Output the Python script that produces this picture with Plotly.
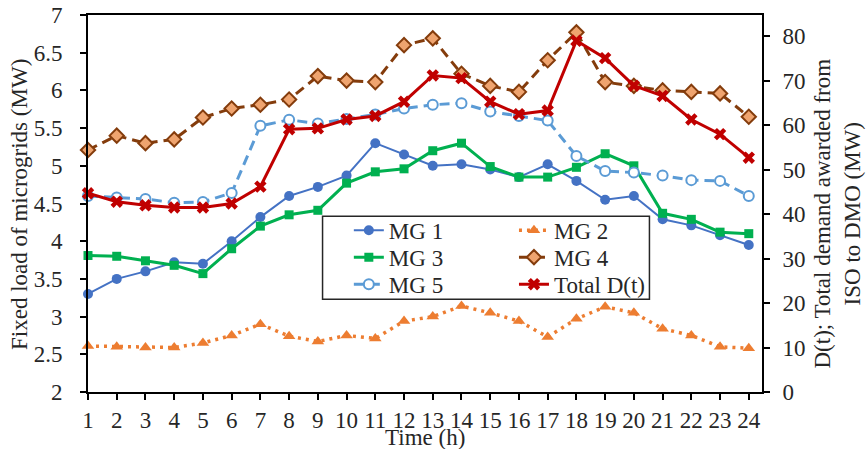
import plotly.graph_objects as go

hours = list(range(1, 25))
x_tick_labels = [str(h) for h in hours]
left_ticks = [2, 2.5, 3, 3.5, 4, 4.5, 5, 5.5, 6, 6.5, 7]
left_tick_labels = ["2", "2.5", "3", "3.5", "4", "4.5", "5", "5.5", "6", "6.5", "7"]
right_ticks = [0, 10, 20, 30, 40, 50, 60, 70, 80]
right_tick_labels = ["0", "10", "20", "30", "40", "50", "60", "70", "80"]

mg1 = [3.30, 3.50, 3.60, 3.72, 3.70, 4.00, 4.32, 4.60, 4.72, 4.87, 5.30, 5.15,
       5.00, 5.02, 4.95, 4.85, 5.02, 4.80, 4.55, 4.60, 4.29, 4.21, 4.08, 3.95]
mg2 = [2.61, 2.60, 2.59, 2.59, 2.65, 2.75, 2.90, 2.74, 2.67, 2.75, 2.71, 2.94,
       3.00, 3.14, 3.05, 2.94, 2.73, 2.97, 3.13, 3.05, 2.84, 2.75, 2.60, 2.58]
mg3 = [3.81, 3.80, 3.74, 3.68, 3.57, 3.90, 4.20, 4.35, 4.41, 4.77, 4.92, 4.96,
       5.20, 5.30, 4.99, 4.85, 4.85, 4.98, 5.16, 5.00, 4.37, 4.29, 4.12, 4.10]
mg4 = [5.21, 5.40, 5.30, 5.35, 5.64, 5.76, 5.81, 5.88, 6.19, 6.13, 6.11, 6.60,
       6.69, 6.22, 6.06, 5.98, 6.40, 6.77, 6.11, 6.06, 6.00, 5.98, 5.96, 5.65]
mg5 = [4.60, 4.58, 4.56, 4.51, 4.52, 4.64, 5.53, 5.61, 5.56, 5.62, 5.68, 5.76,
       5.81, 5.83, 5.72, 5.66, 5.60, 5.13, 4.93, 4.91, 4.87, 4.81, 4.80, 4.60]
total_d = [44.7, 42.8, 42.0, 41.5, 41.5, 42.4, 46.2, 59.1, 59.3, 61.3, 62.1, 65.3,
           71.2, 70.6, 65.3, 62.5, 63.3, 79.0, 75.1, 68.9, 66.6, 61.3, 58.0, 52.7]

FONT = "Liberation Serif"
TXT = "#262626"
FS = 23

fig = go.Figure()

fig.add_trace(go.Scatter(x=hours, y=mg1, name="MG 1", mode="lines+markers",
                         line=dict(color="#4472C4", width=2),
                         marker=dict(symbol="circle", size=10, color="#4472C4"),
                         cliponaxis=False, legend="legend", showlegend=True))
fig.add_trace(go.Scatter(x=hours, y=mg2, name="MG 2", mode="lines+markers",
                         line=dict(color="#ED7D31", width=3.5, dash="3px,5px"),
                         marker=dict(symbol="triangle-up", size=11, color="#ED7D31"),
                         cliponaxis=False, legend="legend2", showlegend=True))
fig.add_trace(go.Scatter(x=hours, y=mg3, name="MG 3", mode="lines+markers",
                         line=dict(color="#00B050", width=3),
                         marker=dict(symbol="square", size=9, color="#00B050"),
                         cliponaxis=False, legend="legend3", showlegend=True))
fig.add_trace(go.Scatter(x=hours, y=mg4, name="MG 4", mode="lines+markers",
                         line=dict(color="#843C0C", width=3, dash="10px,6px"),
                         marker=dict(symbol="diamond", size=11, color="#EFA46F",
                                     line=dict(color="#843C0C", width=2)),
                         cliponaxis=False, legend="legend4", showlegend=True))
fig.add_trace(go.Scatter(x=hours, y=mg5, name="MG 5", mode="lines+markers",
                         line=dict(color="#5B9BD5", width=3, dash="10px,6px"),
                         marker=dict(symbol="circle", size=10, color="white",
                                     line=dict(color="#5B9BD5", width=2)),
                         cliponaxis=False, legend="legend5", showlegend=True))
fig.add_trace(go.Scatter(x=hours, y=total_d, name="Total D(t)", mode="lines+markers",
                         line=dict(color="#C00000", width=3),
                         marker=dict(symbol="x", size=11, color="#C00000"),
                         cliponaxis=False, yaxis="y2", legend="legend6", showlegend=True))

col_x = [0.387, 0.632]
row_y = [0.429, 0.3576, 0.2859]


def leg(cx, ry):
    return dict(x=col_x[cx], y=row_y[ry], xanchor="left", yanchor="middle",
                bgcolor="rgba(0,0,0,0)", font=dict(size=FS, family=FONT, color=TXT),
                tracegroupgap=0)


fig.update_layout(
    width=866, height=449,
    showlegend=True,
    margin=dict(l=88, r=104, t=15, b=57, autoexpand=False),
    paper_bgcolor="white", plot_bgcolor="white",
    font=dict(family=FONT, size=FS, color=TXT),
    xaxis=dict(range=[1, 24.46], tickvals=hours, ticktext=x_tick_labels,
               showgrid=False, zeroline=False, showline=True, linecolor="black",
               linewidth=2, mirror=True, ticks="outside", ticklen=6, tickwidth=2,
               tickcolor="black", ticklabelstandoff=0, automargin=False),
    yaxis=dict(range=[2, 7], tickvals=left_ticks, ticktext=left_tick_labels,
               showgrid=False, zeroline=False, showline=True, linecolor="black",
               linewidth=2, ticks="outside", ticklen=6, tickwidth=2,
               tickcolor="black", ticklabelstandoff=13, automargin=False),
    yaxis2=dict(range=[0, 84.8], tickvals=right_ticks, ticktext=right_tick_labels,
                overlaying="y", side="right", showgrid=False, zeroline=False,
                showline=True, linecolor="black", linewidth=2, ticks="outside",
                ticklen=6, tickwidth=2, tickcolor="black", ticklabelstandoff=8,
                automargin=False),
    legend=leg(0, 0), legend2=leg(1, 0),
    legend3=leg(0, 1), legend4=leg(1, 1),
    legend5=leg(0, 2), legend6=leg(1, 2),
    shapes=[dict(type="rect", xref="paper", yref="paper", x0=0.348, x1=0.833,
                 y0=0.246, y1=0.466, line=dict(color="#262626", width=1.5),
                 fillcolor="white", layer="above")],
    annotations=[
        dict(text="Fixed load of microgrids (MW)", xref="paper", yref="paper",
             x=-0.1013, y=0.498, xanchor="center", yanchor="middle",
             textangle=-90, showarrow=False, font=dict(size=FS, family=FONT, color=TXT)),
        dict(text="D(t); Total demand awarded from<br>ISO to DMO (MW)", xref="paper",
             yref="paper", x=1.1116, y=0.474, xanchor="center", yanchor="middle",
             textangle=-90, showarrow=False, font=dict(size=FS, family=FONT, color=TXT)),
        dict(text="Time (h)", xref="paper", yref="paper", x=0.5, y=-0.122,
             xanchor="center", yanchor="middle", showarrow=False,
             font=dict(size=FS, family=FONT, color=TXT)),
    ],
)

fig.write_html("out.html", config={"displayModeBar": False},
               post_script="document.body.style.margin='0px';")
